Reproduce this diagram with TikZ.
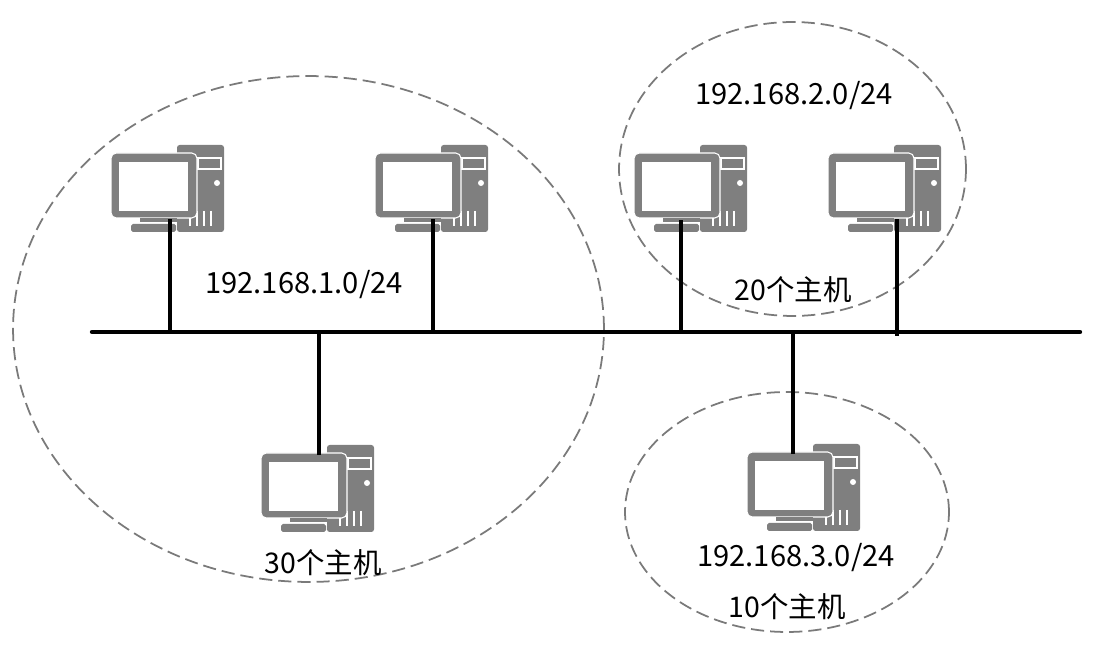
\documentclass[tikz,border=0pt]{standalone}
\usepackage{fontspec}
\setmainfont{Noto Sans CJK SC}
\usetikzlibrary{shapes.geometric}
\definecolor{pcgray}{HTML}{7F7F7F}
\definecolor{zonegray}{HTML}{7A7A7A}
\tikzset{
  nettext/.style={inner sep=0pt,font=\fontsize{16.2}{18}\selectfont},
  netaddr/.style={inner sep=0pt,font=\fontsize{16.6}{18}\selectfont},
  zone/.style={ellipse,draw=zonegray,line width=1pt,dash pattern=on 7.5pt off 3.4pt,inner sep=0pt},
  bus/.style={line width=2.5pt,line cap=round},
  wire/.style={line width=2.8pt},
  computer/.pic={
    \fill[pcgray,rounded corners=1.5pt] (66,-8) rectangle (113,79);
    \draw[white,line width=0.7pt] (87,5) rectangle (110,16);
    \fill[white] (106,30) circle (3);
    \foreach \ventx in {79,86,93,100}
      \draw[white,line width=1pt] (\ventx,58) -- (\ventx,73);
    \fill[pcgray,draw=white,line width=0.6pt,rounded corners=3pt] (0,0) rectangle (86,65);
    \fill[white] (8,9) rectangle (77,58);
    \fill[pcgray] (29,65) rectangle (66,69);
    \fill[pcgray,rounded corners=1pt] (20,71) rectangle (65,79);
  }
}
\begin{document}
\begin{tikzpicture}[x=0.02cm,y=-0.02cm]
\useasboundingbox (0,0) rectangle (1108,661);
\path node[zone,minimum width=11.82cm,minimum height=10.12cm] (zoneA) at (308.5,329) {}
node[zone,minimum width=6.94cm,minimum height=5.88cm] (zoneB) at (792.5,169) {}
node[zone,minimum width=6.48cm,minimum height=4.8cm] (zoneC) at (787,512) {}
node[netaddr] (netA) at (304,285) {192.168.1.0/24}
node[netaddr] (netB) at (794,96) {192.168.2.0/24}
node[netaddr] (netC) at (796,558) {192.168.3.0/24}
node[nettext] (hostsA) at (323,563) {30个主机}
node[nettext] (hostsB) at (793,290) {20个主机}
node[nettext] (hostsC) at (787,607) {10个主机}
coordinate (busL) at (92,332)
coordinate (busR) at (1080,332)
coordinate (tapA) at (170,332)
coordinate (tapB) at (433,332)
coordinate (tapC) at (319,332)
coordinate (tapD) at (681,333)
coordinate (tapE) at (897,336)
coordinate (tapF) at (793,332)
coordinate (pcA) at (170,219)
coordinate (pcB) at (433,219)
coordinate (pcC) at (319,455)
coordinate (pcD) at (681,220)
coordinate (pcE) at (897,219)
coordinate (pcF) at (793,454)
;
\pic at (111,153) {computer};
\pic at (375,153) {computer};
\pic at (634,153) {computer};
\pic at (828,153) {computer};
\pic at (261,453) {computer};
\pic at (747,452) {computer};
\draw[bus] (busL) -- (busR);
\draw[wire] (tapA) -- (pcA);
\draw[wire] (tapB) -- (pcB);
\draw[wire] (tapC) -- (pcC);
\draw[wire] (tapD) -- (pcD);
\draw[wire] (tapE) -- (pcE);
\draw[wire] (tapF) -- (pcF);
\end{tikzpicture}
\end{document}
